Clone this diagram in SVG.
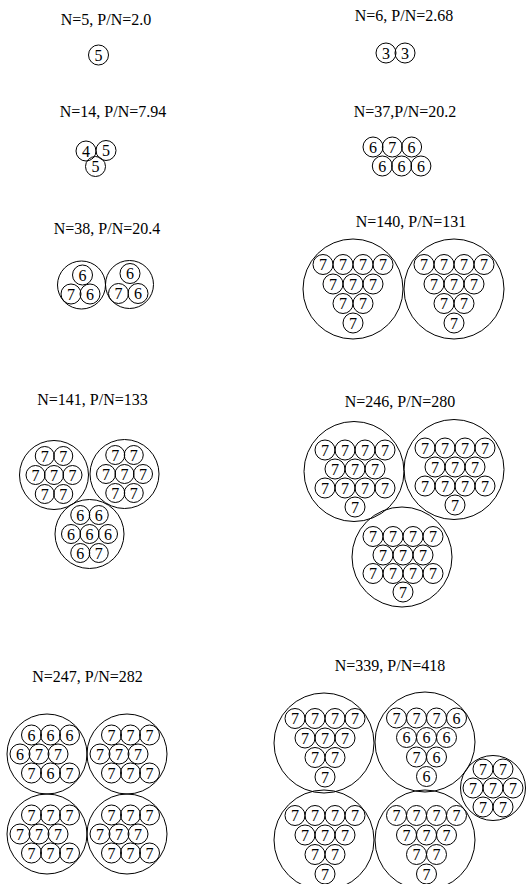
<svg xmlns="http://www.w3.org/2000/svg" xmlns:xlink="http://www.w3.org/1999/xlink" width="526" height="884" viewBox="0 0 526 884">
<style>
.c{fill:none;stroke:#000;stroke-width:1}
text{font-family:"Liberation Serif","Times New Roman",serif;font-size:16px;fill:#000;text-anchor:middle}
</style>
<defs>
<circle id="s" class="c" r="10"/>
<circle id="s2" class="c" r="9.5"/>
</defs>
<rect width="526" height="884" fill="#fff"/>

<g id="p5">
<text x="106" y="25">N=5, P/N=2.0</text>
<g transform="translate(98.5,55)"><use href="#s"/><text y="5.5">5</text></g>
</g>

<g id="p6">
<text x="404" y="21">N=6, P/N=2.68</text>
<g transform="translate(386,53)"><use href="#s"/><text y="5.5">3</text></g>
<g transform="translate(405,53)"><use href="#s"/><text y="5.5">3</text></g>
</g>

<g id="p14">
<text x="113" y="117">N=14, P/N=7.94</text>
<g transform="translate(86,151)"><use href="#s"/><text y="5.5">4</text></g>
<g transform="translate(106,150.5)"><use href="#s"/><text y="5.5">5</text></g>
<g transform="translate(95.5,166.5)"><use href="#s"/><text y="5.5">5</text></g>
</g>

<g id="p37">
<text x="405" y="117">N=37,P/N=20.2</text>
<g transform="translate(373,147)"><use href="#s"/><text y="5.5">6</text></g>
<g transform="translate(392.3,147)"><use href="#s"/><text y="5.5">7</text></g>
<g transform="translate(411.6,147)"><use href="#s"/><text y="5.5">6</text></g>
<g transform="translate(382.3,166)"><use href="#s"/><text y="5.5">6</text></g>
<g transform="translate(401.6,166)"><use href="#s"/><text y="5.5">6</text></g>
<g transform="translate(420.9,166)"><use href="#s"/><text y="5.5">6</text></g>
</g>

<g id="p38">
<text x="107" y="234">N=38, P/N=20.4</text>
<g id="p38a">
<circle class="c" cx="81.5" cy="285" r="24"/>
<g transform="translate(82.5,275)"><use href="#s"/><text y="5.5">6</text></g>
<g transform="translate(71,294)"><use href="#s"/><text y="5.5">7</text></g>
<g transform="translate(90,294)"><use href="#s"/><text y="5.5">6</text></g>
</g>
<g id="p38b">
<circle class="c" cx="129.5" cy="284.5" r="24"/>
<g transform="translate(130,273.5)"><use href="#s"/><text y="5.5">6</text></g>
<g transform="translate(118.5,293.5)"><use href="#s"/><text y="5.5">7</text></g>
<g transform="translate(138,293.5)"><use href="#s"/><text y="5.5">6</text></g>
</g>
</g>

<g id="p140">
<text x="411" y="227">N=140, P/N=131</text>
<g id="p140a">
<circle class="c" cx="353" cy="289" r="50"/>
<g transform="translate(323,264.5)"><use href="#s"/><text y="5.5">7</text></g>
<g transform="translate(343,264.5)"><use href="#s"/><text y="5.5">7</text></g>
<g transform="translate(363,264.5)"><use href="#s"/><text y="5.5">7</text></g>
<g transform="translate(383,264.5)"><use href="#s"/><text y="5.5">7</text></g>
<g transform="translate(333,284)"><use href="#s"/><text y="5.5">7</text></g>
<g transform="translate(353,284)"><use href="#s"/><text y="5.5">7</text></g>
<g transform="translate(373,284)"><use href="#s"/><text y="5.5">7</text></g>
<g transform="translate(343,303.5)"><use href="#s"/><text y="5.5">7</text></g>
<g transform="translate(363,303.5)"><use href="#s"/><text y="5.5">7</text></g>
<g transform="translate(353,323)"><use href="#s"/><text y="5.5">7</text></g>
</g>
<g id="p140b">
<circle class="c" cx="454" cy="289" r="50"/>
<g transform="translate(424,264.5)"><use href="#s"/><text y="5.5">7</text></g>
<g transform="translate(444,264.5)"><use href="#s"/><text y="5.5">7</text></g>
<g transform="translate(464,264.5)"><use href="#s"/><text y="5.5">7</text></g>
<g transform="translate(484,264.5)"><use href="#s"/><text y="5.5">7</text></g>
<g transform="translate(434,284)"><use href="#s"/><text y="5.5">7</text></g>
<g transform="translate(454,284)"><use href="#s"/><text y="5.5">7</text></g>
<g transform="translate(474,284)"><use href="#s"/><text y="5.5">7</text></g>
<g transform="translate(444,303.5)"><use href="#s"/><text y="5.5">7</text></g>
<g transform="translate(464,303.5)"><use href="#s"/><text y="5.5">7</text></g>
<g transform="translate(454,323)"><use href="#s"/><text y="5.5">7</text></g>
</g>
</g>

<g id="p141">
<text x="92.5" y="405">N=141, P/N=133</text>
<g id="p141a">
<circle class="c" cx="54" cy="475" r="34.5"/>
<g transform="translate(44.75,456)"><use href="#s2"/><text y="5.5">7</text></g>
<g transform="translate(63.25,456)"><use href="#s2"/><text y="5.5">7</text></g>
<g transform="translate(35.5,475)"><use href="#s2"/><text y="5.5">7</text></g>
<g transform="translate(54,475)"><use href="#s2"/><text y="5.5">7</text></g>
<g transform="translate(72.5,475)"><use href="#s2"/><text y="5.5">7</text></g>
<g transform="translate(44.75,494)"><use href="#s2"/><text y="5.5">7</text></g>
<g transform="translate(63.25,494)"><use href="#s2"/><text y="5.5">7</text></g>
</g>
<g id="p141b">
<circle class="c" cx="124.5" cy="474" r="34.5"/>
<g transform="translate(115.25,455)"><use href="#s2"/><text y="5.5">7</text></g>
<g transform="translate(133.75,455)"><use href="#s2"/><text y="5.5">7</text></g>
<g transform="translate(106,474)"><use href="#s2"/><text y="5.5">7</text></g>
<g transform="translate(124.5,474)"><use href="#s2"/><text y="5.5">7</text></g>
<g transform="translate(143,474)"><use href="#s2"/><text y="5.5">7</text></g>
<g transform="translate(115.25,493)"><use href="#s2"/><text y="5.5">7</text></g>
<g transform="translate(133.75,493)"><use href="#s2"/><text y="5.5">7</text></g>
</g>
<g id="p141c">
<circle class="c" cx="89.5" cy="534" r="34.5"/>
<g transform="translate(80.25,515)"><use href="#s2"/><text y="5.5">6</text></g>
<g transform="translate(98.75,515)"><use href="#s2"/><text y="5.5">6</text></g>
<g transform="translate(71,534)"><use href="#s2"/><text y="5.5">6</text></g>
<g transform="translate(89.5,534)"><use href="#s2"/><text y="5.5">6</text></g>
<g transform="translate(108,534)"><use href="#s2"/><text y="5.5">6</text></g>
<g transform="translate(80.25,553)"><use href="#s2"/><text y="5.5">6</text></g>
<g transform="translate(98.75,553)"><use href="#s2"/><text y="5.5">7</text></g>
</g>
</g>

<g id="p246">
<text x="400" y="407">N=246, P/N=280</text>
<g id="p246a">
<circle class="c" cx="354" cy="471.5" r="50"/>
<g transform="translate(325,450)"><use href="#s"/><text y="5.5">7</text></g>
<g transform="translate(345,450)"><use href="#s"/><text y="5.5">7</text></g>
<g transform="translate(365,450)"><use href="#s"/><text y="5.5">7</text></g>
<g transform="translate(385,450)"><use href="#s"/><text y="5.5">7</text></g>
<g transform="translate(335,469)"><use href="#s"/><text y="5.5">7</text></g>
<g transform="translate(355,469)"><use href="#s"/><text y="5.5">7</text></g>
<g transform="translate(375,469)"><use href="#s"/><text y="5.5">7</text></g>
<g transform="translate(325,488)"><use href="#s"/><text y="5.5">7</text></g>
<g transform="translate(345,488)"><use href="#s"/><text y="5.5">7</text></g>
<g transform="translate(365,488)"><use href="#s"/><text y="5.5">7</text></g>
<g transform="translate(385,488)"><use href="#s"/><text y="5.5">7</text></g>
<g transform="translate(355,507)"><use href="#s"/><text y="5.5">7</text></g>
</g>
<g id="p246b">
<circle class="c" cx="454" cy="469.5" r="50"/>
<g transform="translate(425,448)"><use href="#s"/><text y="5.5">7</text></g>
<g transform="translate(445,448)"><use href="#s"/><text y="5.5">7</text></g>
<g transform="translate(465,448)"><use href="#s"/><text y="5.5">7</text></g>
<g transform="translate(485,448)"><use href="#s"/><text y="5.5">7</text></g>
<g transform="translate(435,467)"><use href="#s"/><text y="5.5">7</text></g>
<g transform="translate(455,467)"><use href="#s"/><text y="5.5">7</text></g>
<g transform="translate(475,467)"><use href="#s"/><text y="5.5">7</text></g>
<g transform="translate(425,486)"><use href="#s"/><text y="5.5">7</text></g>
<g transform="translate(445,486)"><use href="#s"/><text y="5.5">7</text></g>
<g transform="translate(465,486)"><use href="#s"/><text y="5.5">7</text></g>
<g transform="translate(485,486)"><use href="#s"/><text y="5.5">7</text></g>
<g transform="translate(455,505)"><use href="#s"/><text y="5.5">7</text></g>
</g>
<g id="p246c">
<circle class="c" cx="402" cy="557" r="50"/>
<g transform="translate(373,536.5)"><use href="#s"/><text y="5.5">7</text></g>
<g transform="translate(393,536.5)"><use href="#s"/><text y="5.5">7</text></g>
<g transform="translate(413,536.5)"><use href="#s"/><text y="5.5">7</text></g>
<g transform="translate(433,536.5)"><use href="#s"/><text y="5.5">7</text></g>
<g transform="translate(383,555)"><use href="#s"/><text y="5.5">7</text></g>
<g transform="translate(403,555)"><use href="#s"/><text y="5.5">7</text></g>
<g transform="translate(423,555)"><use href="#s"/><text y="5.5">7</text></g>
<g transform="translate(373,573.5)"><use href="#s"/><text y="5.5">7</text></g>
<g transform="translate(393,573.5)"><use href="#s"/><text y="5.5">7</text></g>
<g transform="translate(413,573.5)"><use href="#s"/><text y="5.5">7</text></g>
<g transform="translate(433,573.5)"><use href="#s"/><text y="5.5">7</text></g>
<g transform="translate(403,592)"><use href="#s"/><text y="5.5">7</text></g>
</g>
</g>

<g id="p247">
<text x="87.5" y="682">N=247, P/N=282</text>
<g id="p247a">
<circle class="c" cx="47" cy="754" r="40"/>
<g transform="translate(31.5,735)"><use href="#s"/><text y="5.5">6</text></g>
<g transform="translate(50.5,735)"><use href="#s"/><text y="5.5">6</text></g>
<g transform="translate(69.5,735)"><use href="#s"/><text y="5.5">6</text></g>
<g transform="translate(20,754)"><use href="#s"/><text y="5.5">6</text></g>
<g transform="translate(39,754)"><use href="#s"/><text y="5.5">7</text></g>
<g transform="translate(58,754)"><use href="#s"/><text y="5.5">7</text></g>
<g transform="translate(31.5,773)"><use href="#s"/><text y="5.5">7</text></g>
<g transform="translate(50.5,773)"><use href="#s"/><text y="5.5">6</text></g>
<g transform="translate(69.5,773)"><use href="#s"/><text y="5.5">7</text></g>
</g>
<g id="p247b">
<circle class="c" cx="127" cy="754" r="40"/>
<g transform="translate(111.5,735)"><use href="#s"/><text y="5.5">7</text></g>
<g transform="translate(130.5,735)"><use href="#s"/><text y="5.5">7</text></g>
<g transform="translate(149.5,735)"><use href="#s"/><text y="5.5">7</text></g>
<g transform="translate(100,754)"><use href="#s"/><text y="5.5">7</text></g>
<g transform="translate(119,754)"><use href="#s"/><text y="5.5">7</text></g>
<g transform="translate(138,754)"><use href="#s"/><text y="5.5">7</text></g>
<g transform="translate(111.5,773)"><use href="#s"/><text y="5.5">7</text></g>
<g transform="translate(130.5,773)"><use href="#s"/><text y="5.5">7</text></g>
<g transform="translate(149.5,773)"><use href="#s"/><text y="5.5">7</text></g>
</g>
<g id="p247c">
<circle class="c" cx="47" cy="834" r="40"/>
<g transform="translate(31.5,815)"><use href="#s"/><text y="5.5">7</text></g>
<g transform="translate(50.5,815)"><use href="#s"/><text y="5.5">7</text></g>
<g transform="translate(69.5,815)"><use href="#s"/><text y="5.5">7</text></g>
<g transform="translate(20,834)"><use href="#s"/><text y="5.5">7</text></g>
<g transform="translate(39,834)"><use href="#s"/><text y="5.5">7</text></g>
<g transform="translate(58,834)"><use href="#s"/><text y="5.5">7</text></g>
<g transform="translate(31.5,853)"><use href="#s"/><text y="5.5">7</text></g>
<g transform="translate(50.5,853)"><use href="#s"/><text y="5.5">7</text></g>
<g transform="translate(69.5,853)"><use href="#s"/><text y="5.5">7</text></g>
</g>
<g id="p247d">
<circle class="c" cx="127" cy="834" r="40"/>
<g transform="translate(111.5,815)"><use href="#s"/><text y="5.5">7</text></g>
<g transform="translate(130.5,815)"><use href="#s"/><text y="5.5">7</text></g>
<g transform="translate(149.5,815)"><use href="#s"/><text y="5.5">7</text></g>
<g transform="translate(100,834)"><use href="#s"/><text y="5.5">7</text></g>
<g transform="translate(119,834)"><use href="#s"/><text y="5.5">7</text></g>
<g transform="translate(138,834)"><use href="#s"/><text y="5.5">7</text></g>
<g transform="translate(111.5,853)"><use href="#s"/><text y="5.5">7</text></g>
<g transform="translate(130.5,853)"><use href="#s"/><text y="5.5">7</text></g>
<g transform="translate(149.5,853)"><use href="#s"/><text y="5.5">7</text></g>
</g>
</g>

<g id="p339">
<text x="390" y="671">N=339, P/N=418</text>
<g id="p339a">
<circle class="c" cx="324" cy="743" r="50"/>
<g transform="translate(295,718.5)"><use href="#s"/><text y="5.5">7</text></g>
<g transform="translate(315,718.5)"><use href="#s"/><text y="5.5">7</text></g>
<g transform="translate(335,718.5)"><use href="#s"/><text y="5.5">7</text></g>
<g transform="translate(355,718.5)"><use href="#s"/><text y="5.5">7</text></g>
<g transform="translate(305,738)"><use href="#s"/><text y="5.5">7</text></g>
<g transform="translate(325,738)"><use href="#s"/><text y="5.5">7</text></g>
<g transform="translate(345,738)"><use href="#s"/><text y="5.5">7</text></g>
<g transform="translate(315,757.5)"><use href="#s"/><text y="5.5">7</text></g>
<g transform="translate(335,757.5)"><use href="#s"/><text y="5.5">7</text></g>
<g transform="translate(325,777)"><use href="#s"/><text y="5.5">7</text></g>
</g>
<g id="p339b">
<circle class="c" cx="425" cy="742" r="50"/>
<g transform="translate(396.5,718)"><use href="#s"/><text y="5.5">7</text></g>
<g transform="translate(416.5,718)"><use href="#s"/><text y="5.5">7</text></g>
<g transform="translate(436.5,718)"><use href="#s"/><text y="5.5">7</text></g>
<g transform="translate(456.5,718)"><use href="#s"/><text y="5.5">6</text></g>
<g transform="translate(406.5,737.5)"><use href="#s"/><text y="5.5">6</text></g>
<g transform="translate(426.5,737.5)"><use href="#s"/><text y="5.5">6</text></g>
<g transform="translate(446.5,737.5)"><use href="#s"/><text y="5.5">6</text></g>
<g transform="translate(416.5,757)"><use href="#s"/><text y="5.5">7</text></g>
<g transform="translate(436.5,757)"><use href="#s"/><text y="5.5">6</text></g>
<g transform="translate(426.5,776.5)"><use href="#s"/><text y="5.5">6</text></g>
</g>
<g id="p339c">
<circle class="c" cx="493" cy="788" r="32.5"/>
<g transform="translate(483,769)"><use href="#s"/><text y="5.5">7</text></g>
<g transform="translate(503,769)"><use href="#s"/><text y="5.5">7</text></g>
<g transform="translate(473,788)"><use href="#s"/><text y="5.5">7</text></g>
<g transform="translate(493,788)"><use href="#s"/><text y="5.5">7</text></g>
<g transform="translate(513,788)"><use href="#s"/><text y="5.5">7</text></g>
<g transform="translate(483,807)"><use href="#s"/><text y="5.5">7</text></g>
<g transform="translate(503,807)"><use href="#s"/><text y="5.5">7</text></g>
</g>
<g id="p339d">
<circle class="c" cx="324" cy="840" r="50"/>
<g transform="translate(295,815.5)"><use href="#s"/><text y="5.5">7</text></g>
<g transform="translate(315,815.5)"><use href="#s"/><text y="5.5">7</text></g>
<g transform="translate(335,815.5)"><use href="#s"/><text y="5.5">7</text></g>
<g transform="translate(355,815.5)"><use href="#s"/><text y="5.5">7</text></g>
<g transform="translate(305,835)"><use href="#s"/><text y="5.5">7</text></g>
<g transform="translate(325,835)"><use href="#s"/><text y="5.5">7</text></g>
<g transform="translate(345,835)"><use href="#s"/><text y="5.5">7</text></g>
<g transform="translate(315,854.5)"><use href="#s"/><text y="5.5">7</text></g>
<g transform="translate(335,854.5)"><use href="#s"/><text y="5.5">7</text></g>
<g transform="translate(325,874)"><use href="#s"/><text y="5.5">7</text></g>
</g>
<g id="p339e">
<circle class="c" cx="425" cy="840" r="50"/>
<g transform="translate(396.5,815.5)"><use href="#s"/><text y="5.5">7</text></g>
<g transform="translate(416.5,815.5)"><use href="#s"/><text y="5.5">7</text></g>
<g transform="translate(436.5,815.5)"><use href="#s"/><text y="5.5">7</text></g>
<g transform="translate(456.5,815.5)"><use href="#s"/><text y="5.5">7</text></g>
<g transform="translate(406.5,835)"><use href="#s"/><text y="5.5">7</text></g>
<g transform="translate(426.5,835)"><use href="#s"/><text y="5.5">7</text></g>
<g transform="translate(446.5,835)"><use href="#s"/><text y="5.5">7</text></g>
<g transform="translate(416.5,854.5)"><use href="#s"/><text y="5.5">7</text></g>
<g transform="translate(436.5,854.5)"><use href="#s"/><text y="5.5">7</text></g>
<g transform="translate(426.5,874)"><use href="#s"/><text y="5.5">7</text></g>
</g>
</g>
</svg>
